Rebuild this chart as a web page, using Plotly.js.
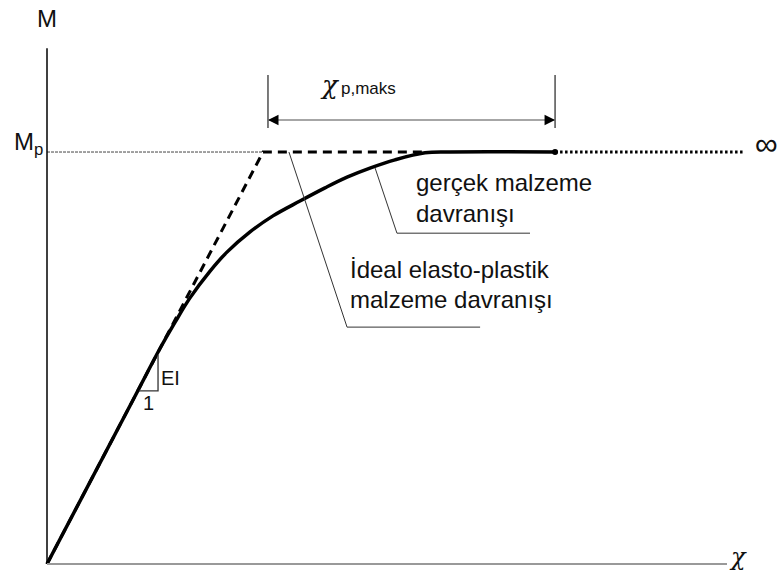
<!DOCTYPE html>
<html>
<head>
<meta charset="utf-8">
<script src="https://cdn.plot.ly/plotly-3.0.1.min.js"></script>
<style>
  html, body { margin: 0; padding: 0; background: #fff; }
  #chart { width: 781px; height: 574px; }
</style>
</head>
<body>
<div id="chart"></div>
<script>
// Moment–curvature diagram, curvature χ normalised by the yield curvature,
// moment M normalised by the plastic moment Mp.

// real material behaviour (gerçek malzeme davranışı)
const realChi = [0, 0.40, 0.523, 0.593, 0.662, 0.755, 0.833, 0.940, 1.046, 1.171, 1.287, 1.389, 1.495, 1.611, 1.750, 1.866, 2.352];
const realM   = [0, 0.40, 0.523, 0.587, 0.646, 0.711, 0.757, 0.806, 0.845, 0.881, 0.913, 0.939, 0.961, 0.981, 0.998, 1.0, 1.0];

// ideal elasto-plastic behaviour
const idealChi = [0, 1.0, 1.75];
const idealM   = [0, 1.0, 1.0];

// plastic plateau continuing to infinity
const plateauChi = [2.352, 3.22];
const plateauM   = [1.0, 1.0];

// Mp reference level
const mpChi = [0, 1.0];
const mpM   = [1.0, 1.0];

// slope triangle (EI over 1)
const triChi = [0.426, 0.514, 0.514];
const triM   = [0.420, 0.420, 0.507];

// χp,maks dimension
const dimLeft = 1.023, dimRight = 2.352, dimLevel = 1.078, dimTop = 1.187, dimBottom = 1.058;

// leader lines from the labels to the curves
const leaderIdealChi = [1.12, 1.389, 2.005];
const leaderIdealM   = [1.0, 0.575, 0.575];
const leaderRealChi  = [1.519, 1.620, 2.236];
const leaderRealM    = [0.961, 0.803, 0.803];

// axis extents
const axisChiEnd = 3.148;
const axisMEnd = 1.252;

const ink = '#111';
const sans = 'Liberation Sans, Arial, sans-serif';
const greek = 'DejaVu Serif, serif';

const traces = [
  { x: mpChi, y: mpM, mode: 'lines', line: { color: '#444', width: 1, dash: '3px,1px' }, hoverinfo: 'skip' },
  { x: idealChi, y: idealM, mode: 'lines', line: { color: '#000', width: 3, dash: '9px,6px' }, hoverinfo: 'skip' },
  { x: realChi, y: realM, mode: 'lines', line: { color: '#000', width: 3.5, shape: 'spline', smoothing: 1.0 }, hoverinfo: 'skip' },
  { x: [plateauChi[0]], y: [plateauM[0]], mode: 'markers', marker: { color: '#000', size: 6 }, hoverinfo: 'skip' },
  { x: plateauChi, y: plateauM, mode: 'lines', line: { color: '#000', width: 3, dash: '2.5px,2.5px' }, hoverinfo: 'skip' },
  { x: triChi, y: triM, mode: 'lines', line: { color: '#333', width: 1.3 }, hoverinfo: 'skip' },
  { x: leaderIdealChi, y: leaderIdealM, mode: 'lines', line: { color: '#333', width: 1 }, hoverinfo: 'skip' },
  { x: leaderRealChi, y: leaderRealM, mode: 'lines', line: { color: '#333', width: 1 }, hoverinfo: 'skip' }
];

const shapes = [
  // M axis
  { type: 'line', xref: 'x', yref: 'y', x0: 0, x1: 0, y0: 0, y1: axisMEnd, line: { color: '#000', width: 1.5 } },
  // χ axis
  { type: 'line', xref: 'x', yref: 'y', x0: 0, x1: axisChiEnd, y0: 0, y1: 0, line: { color: '#999', width: 2 } },
  // dimension extension lines and shaft
  { type: 'line', xref: 'x', yref: 'y', x0: dimLeft, x1: dimLeft, y0: dimBottom, y1: dimTop, line: { color: '#222', width: 1.2 } },
  { type: 'line', xref: 'x', yref: 'y', x0: dimRight, x1: dimRight, y0: dimBottom, y1: dimTop, line: { color: '#222', width: 1.2 } },
  { type: 'line', xref: 'x', yref: 'y', x0: dimLeft, x1: dimRight, y0: dimLevel, y1: dimLevel, line: { color: '#888', width: 1.5 } }
];

const txt = (x, y, text, size, extra, family, style) => Object.assign({
  x: x, y: y, xref: 'x', yref: 'y', text: text, showarrow: false,
  font: { family: family || sans, size: size, color: ink, style: style || 'normal' }
}, extra || {});

const annotations = [
  txt(0, 1.325, 'M', 24),
  txt(-0.087, 1.02, 'M<sub>p</sub>', 24),
  txt(3.33, 1.019, '∞', 32),
  txt(3.199, -0.022, 'χ', 24, { yanchor: 'bottom' }, greek, 'italic'),
  txt(1.310, 1.162, 'χ', 26, {}, greek, 'italic'),
  txt(1.352, 1.155, 'p,maks', 17, { xanchor: 'left' }),
  txt(1.700, 0.927, 'gerçek malzeme', 24, { xanchor: 'left' }),
  txt(1.700, 0.850, 'davranışı', 24, { xanchor: 'left' }),
  txt(1.395, 0.716, 'İdeal elasto-plastik', 24, { xanchor: 'left' }),
  txt(1.395, 0.641, 'malzeme davranışı', 24, { xanchor: 'left' }),
  txt(0.570, 0.452, 'EI', 20),
  txt(0.470, 0.390, '1', 20),
  // arrowheads of the χp,maks dimension
  { x: dimLeft, y: dimLevel, ax: dimLeft + 0.05, ay: dimLevel, xref: 'x', yref: 'y', axref: 'x', ayref: 'y',
    text: '', showarrow: true, arrowhead: 2, arrowsize: 1.4, arrowwidth: 1.5, arrowcolor: '#000', standoff: 0 },
  { x: dimRight, y: dimLevel, ax: dimRight - 0.05, ay: dimLevel, xref: 'x', yref: 'y', axref: 'x', ayref: 'y',
    text: '', showarrow: true, arrowhead: 2, arrowsize: 1.4, arrowwidth: 1.5, arrowcolor: '#000', standoff: 0 }
];

const hidden = { showgrid: false, zeroline: false, showticklabels: false, showline: false, ticks: '', fixedrange: true };

const layout = {
  width: 781, height: 574,
  margin: { l: 0, r: 0, t: 0, b: 0 },
  paper_bgcolor: '#fff', plot_bgcolor: '#fff',
  showlegend: false,
  xaxis: Object.assign({ range: [-0.2176, 3.398] }, hidden),
  yaxis: Object.assign({ range: [-0.0243, 1.369] }, hidden),
  shapes: shapes,
  annotations: annotations
};

Plotly.newPlot('chart', traces, layout, { displayModeBar: false, staticPlot: true });
</script>
</body>
</html>
